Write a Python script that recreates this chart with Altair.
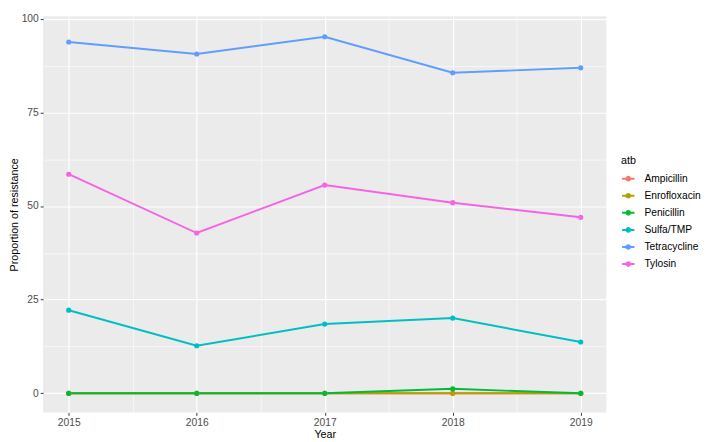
import altair as alt
import pandas as pd

years = [2015, 2016, 2017, 2018, 2019]
atb_names = ["Ampicillin", "Enrofloxacin", "Penicillin", "Sulfa/TMP", "Tetracycline", "Tylosin"]
ampicillin = [0, 0, 0, 0, 0]
enrofloxacin = [0, 0, 0, 0, 0]
penicillin = [0, 0, 0, 1.2, 0]
sulfa_tmp = [22.2, 12.7, 18.5, 20.1, 13.7]
tetracycline = [93.8, 90.6, 95.2, 85.6, 86.9]
tylosin = [58.5, 42.8, 55.6, 50.9, 47.0]
colors = ["#F8766D", "#B79F00", "#00BA38", "#00BFC4", "#619CFF", "#F564E3"]

series = [ampicillin, enrofloxacin, penicillin, sulfa_tmp, tetracycline, tylosin]
rows = []
for name, vals in zip(atb_names, series):
    for y, v in zip(years, vals):
        rows.append({"Year": y, "value": v, "atb": name})
df = pd.DataFrame(rows)

FONT = "Liberation Sans"

x_vals = [2015, 2015.5, 2016, 2016.5, 2017, 2017.5, 2018, 2018.5, 2019]
y_vals = [0, 12.5, 25, 37.5, 50, 62.5, 75, 87.5, 100]

x_enc = alt.X(
    "Year:Q",
    scale=alt.Scale(domain=[2014.8, 2019.2], nice=False, zero=False),
    axis=alt.Axis(
        title="Year",
        values=x_vals,
        labelExpr="datum.value % 1 == 0 ? format(datum.value, 'd') : ''",
        grid=True,
        gridColor="white",
        gridOpacity=1,
        gridWidth={"condition": {"test": "datum.value % 1 == 0", "value": 1.2}, "value": 0.6},
        tickOpacity={"condition": {"test": "datum.value % 1 == 0", "value": 1}, "value": 0},
        tickColor="#333333",
        tickSize=3,
        domain=False,
        labelColor="#4D4D4D",
        labelFontSize=10.5,
        labelPadding=2,
        titleFontSize=11,
        titleFontWeight="normal",
        titleColor="black",
        titlePadding=1,
    ),
)
y_enc = alt.Y(
    "value:Q",
    scale=alt.Scale(domain=[-5.1, 100.7], nice=False, zero=False),
    axis=alt.Axis(
        title="Proportion of resistance",
        values=y_vals,
        labelExpr="datum.value % 25 == 0 ? datum.label : ''",
        grid=True,
        gridColor="white",
        gridOpacity=1,
        gridWidth={"condition": {"test": "datum.value % 25 == 0", "value": 1.2}, "value": 0.6},
        tickOpacity={"condition": {"test": "datum.value % 25 == 0", "value": 1}, "value": 0},
        tickColor="#333333",
        tickSize=3,
        domain=False,
        labelColor="#4D4D4D",
        labelFontSize=10.5,
        labelPadding=2,
        titleFontSize=11,
        titleFontWeight="normal",
        titleColor="black",
        titlePadding=2,
    ),
)
color_enc = alt.Color(
    "atb:N",
    scale=alt.Scale(domain=atb_names, range=colors),
    legend=alt.Legend(
        title="atb",
        orient="none",
        legendX=592,
        legendY=142,
        titleFontSize=11,
        titleFontWeight="normal",
        titleColor="black",
        titlePadding=6,
        labelFontSize=10.5,
        labelColor="black",
        labelOffset=9,
        symbolType="M-1,0H1M0.3,0A0.3,0.3 0 1,1 -0.3,0A0.3,0.3 0 1,1 0.3,0Z",
        symbolSize=160,
        symbolStrokeWidth=2,
        rowPadding=3.5,
    ),
)

base = alt.Chart(df)
lines = base.mark_line(strokeWidth=2).encode(x=x_enc, y=y_enc, color=color_enc)
points = base.mark_point(filled=True, size=28, opacity=1).encode(x=x_enc, y=y_enc, color=color_enc)

chart = (
    alt.layer(lines, points)
    .properties(
        width=577,
        height=406,
        padding={"top": 0, "left": 0, "right": 0, "bottom": 0},
        background="white",
    )
    .configure(font=FONT)
    .configure_view(fill="#EBEBEB", strokeWidth=0)
)

chart.save("out.html", embed_options={"renderer": "svg", "actions": False})
